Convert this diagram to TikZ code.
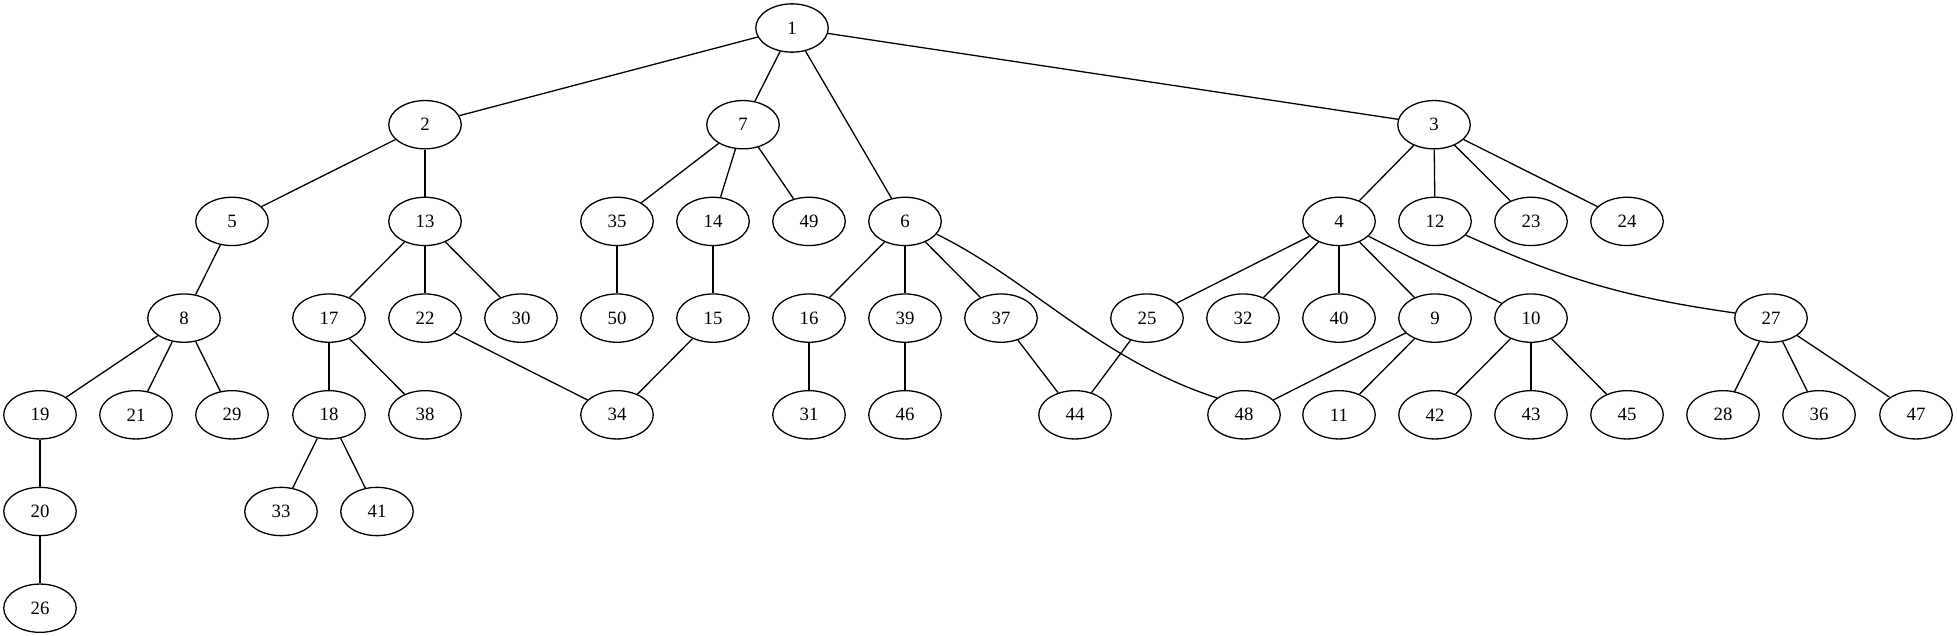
\documentclass[tikz,border=0pt]{standalone}
\usepackage{fontspec}
\setmainfont{Liberation Serif}
\usetikzlibrary{shapes.geometric}
\tikzset{
  nd/.style={draw, ellipse, minimum width=72.5pt, minimum height=48.3pt, inner sep=0pt, line width=1.3pt, font=\fontsize{18.8}{22}\selectfont},
  ed/.style={line width=1.3pt}
}
\begin{document}
\begin{tikzpicture}[x=1pt,y=-1pt]
\useasboundingbox (0,0) rectangle (1957,635);
% row 0
\node[nd] (n1) at (792,28) {1};
% row 1
\node[nd] (n2) at (425,124.7) {2};
\node[nd] (n7) at (743,124.7) {7};
\node[nd] (n3) at (1434,124.7) {3};
% row 2
\node[nd] (n5) at (232,221.4) {5};
\node[nd] (n13) at (425,221.4) {13};
\node[nd] (n35) at (617,221.4) {35};
\node[nd] (n14) at (713,221.4) {14};
\node[nd] (n49) at (809,221.4) {49};
\node[nd] (n6) at (905,221.4) {6};
\node[nd] (n4) at (1339,221.4) {4};
\node[nd] (n12) at (1435,221.4) {12};
\node[nd] (n23) at (1531,221.4) {23};
\node[nd] (n24) at (1627,221.4) {24};
% row 3
\node[nd] (n8) at (184,318.1) {8};
\node[nd] (n17) at (329,318.1) {17};
\node[nd] (n22) at (425,318.1) {22};
\node[nd] (n30) at (521,318.1) {30};
\node[nd] (n50) at (617,318.1) {50};
\node[nd] (n15) at (713,318.1) {15};
\node[nd] (n16) at (809,318.1) {16};
\node[nd] (n39) at (905,318.1) {39};
\node[nd] (n37) at (1001,318.1) {37};
\node[nd] (n25) at (1147,318.1) {25};
\node[nd] (n32) at (1243,318.1) {32};
\node[nd] (n40) at (1339,318.1) {40};
\node[nd] (n9) at (1435,318.1) {9};
\node[nd] (n10) at (1531,318.1) {10};
\node[nd] (n27) at (1771,318.1) {27};
% row 4
\node[nd] (n19) at (40,414.8) {19};
\node[nd] (n21) at (136,414.8) {21};
\node[nd] (n29) at (232,414.8) {29};
\node[nd] (n18) at (329,414.8) {18};
\node[nd] (n38) at (425,414.8) {38};
\node[nd] (n34) at (617,414.8) {34};
\node[nd] (n31) at (809,414.8) {31};
\node[nd] (n46) at (905,414.8) {46};
\node[nd] (n44) at (1075,414.8) {44};
\node[nd] (n48) at (1244,414.8) {48};
\node[nd] (n11) at (1339,414.8) {11};
\node[nd] (n42) at (1435,414.8) {42};
\node[nd] (n43) at (1531,414.8) {43};
\node[nd] (n45) at (1627,414.8) {45};
\node[nd] (n28) at (1723,414.8) {28};
\node[nd] (n36) at (1819,414.8) {36};
\node[nd] (n47) at (1916,414.8) {47};
% row 5
\node[nd] (n20) at (40,511.5) {20};
\node[nd] (n33) at (281,511.5) {33};
\node[nd] (n41) at (377,511.5) {41};
% row 6
\node[nd] (n26) at (40,608.2) {26};
% edges
\foreach \a/\b in {1/2,1/7,1/6,1/3,2/5,2/13,7/35,7/14,7/49,3/4,3/12,3/23,3/24,
  5/8,13/17,13/22,13/30,35/50,14/15,6/16,6/39,6/37,4/25,4/32,4/40,4/9,4/10,
  8/19,8/21,8/29,17/18,17/38,22/34,15/34,16/31,39/46,37/44,25/44,9/48,9/11,
  10/42,10/43,10/45,27/28,27/36,27/47,19/20,18/33,18/41,20/26}
  \draw[ed] (n\a) -- (n\b);
\draw[ed] (n6.-22) .. controls (1030,280) and (1100,360) .. (n48.148);
\draw[ed] (n12) to[bend right=8] (n27);
\end{tikzpicture}
\end{document}
